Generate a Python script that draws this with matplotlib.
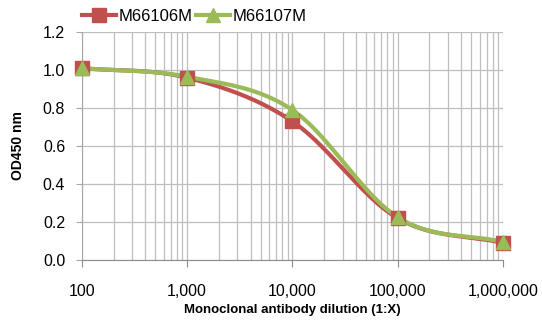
import numpy as np
import matplotlib
matplotlib.use("Agg")
import matplotlib.pyplot as plt
from matplotlib.ticker import FixedLocator, LogLocator, NullFormatter

plt.rcParams['font.family'] = ['Liberation Sans', 'DejaVu Sans']

dilution = [100, 1000, 10000, 100000, 1000000]
x_labels = ["100", "1,000", "10,000", "100,000", "1,000,000"]
m66106m = [1.01, 0.96, 0.73, 0.22, 0.09]
m66107m = [1.01, 0.965, 0.79, 0.225, 0.095]
series_names = ["M66106M", "M66107M"]
colors = ["#C0504D", "#9BBB59"]
markers = ["s", "^"]


def smooth(xs, ys, n=40):
    lx = np.log10(np.asarray(xs, float))
    y = np.asarray(ys, float)
    P = np.column_stack([lx, y])
    P = np.vstack([P[0] - (P[1] - P[0]), P, P[-1] + (P[-1] - P[-2])])
    out = []
    t = np.linspace(0, 1, n)[:, None]
    for i in range(1, len(P) - 2):
        p0, p1, p2, p3 = P[i - 1], P[i], P[i + 1], P[i + 2]
        seg = 0.5 * ((2 * p1) + (-p0 + p2) * t + (2 * p0 - 5 * p1 + 4 * p2 - p3) * t ** 2
                     + (-p0 + 3 * p1 - 3 * p2 + p3) * t ** 3)
        out.append(seg)
    out = np.vstack(out)
    return 10 ** out[:, 0], out[:, 1]


fig = plt.figure(figsize=(5.42, 3.21), dpi=100)
ax = fig.add_axes([0.151, 0.19, 0.777, 0.71])

for ys, name, c, m in zip([m66106m, m66107m], series_names, colors, markers):
    sx, sy = smooth(dilution, ys)
    ax.plot(sx, sy, color=c, lw=3, zorder=3)
    ax.plot(dilution, ys, linestyle='none', marker=m, color=c, markersize=10, zorder=4,
            clip_on=False)
    ax.plot([], [], color=c, lw=3, marker=m, markersize=10, label=name)

ax.set_xscale('log')
ax.set_xlim(100, 1000000)
ax.set_ylim(0, 1.2)
ax.xaxis.set_major_locator(FixedLocator(dilution))
ax.set_xticklabels(x_labels)
ax.xaxis.set_minor_locator(LogLocator(base=10, subs=np.arange(2, 10)))
ax.xaxis.set_minor_formatter(NullFormatter())
ax.set_yticks(np.arange(0, 1.21, 0.2))
ax.set_yticklabels([f"{v:.1f}" for v in np.arange(0, 1.21, 0.2)])

ax.grid(True, which='both', axis='x', color='#BFBFBF', lw=0.9)
ax.grid(True, which='major', axis='y', color='#BFBFBF', lw=0.9)
ax.set_axisbelow(True)
for s in ['top', 'right']:
    ax.spines[s].set_visible(False)
ax.spines['left'].set_color('#A6A6A6')
ax.spines['bottom'].set_color('#8C8C8C')
ax.tick_params(axis='y', length=4, color='#A6A6A6', labelsize=11.5, pad=8)
ax.tick_params(axis='x', which='major', length=5, color='#8C8C8C', labelsize=11.5, pad=12, direction='out')
ax.tick_params(axis='x', which='minor', length=0)

ax.set_ylabel("OD450 nm", fontsize=10, fontweight='bold', labelpad=13)
ax.set_xlabel("Monoclonal antibody dilution (1:X)", fontsize=9.5, fontweight='bold', labelpad=4)

fig.legend(loc='upper left', bbox_to_anchor=(0.135, 1.0), ncol=2, frameon=False,
           fontsize=12, handlelength=2.0, columnspacing=0.2, handletextpad=0.2, borderaxespad=0.15)

fig.savefig("out.png", dpi=100)
